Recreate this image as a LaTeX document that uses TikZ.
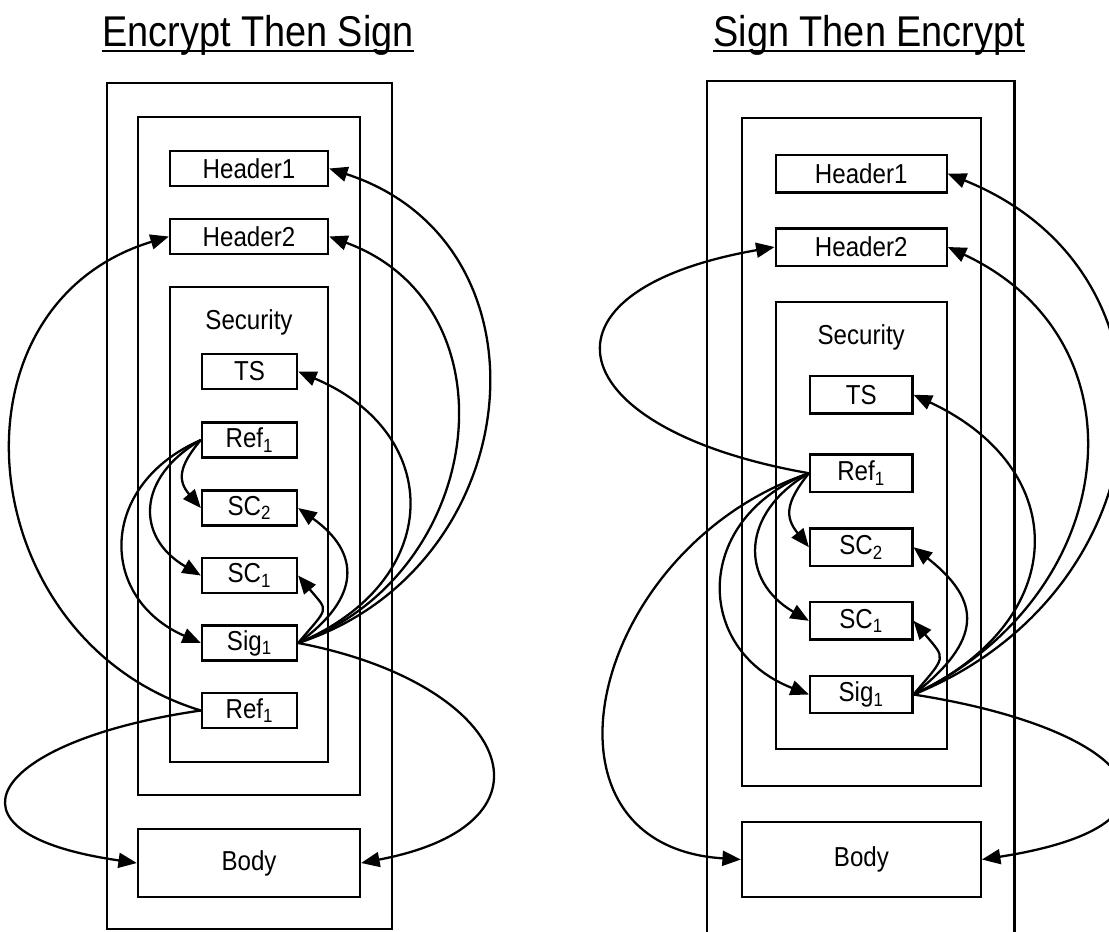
\documentclass[tikz,border=0pt]{standalone}
\usepackage{fontspec}
\setmainfont{Liberation Sans}[FakeStretch=0.88]
\usetikzlibrary{arrows.meta}
\newcommand\pxu{0.02cm}
\begin{document}
\begin{tikzpicture}[x=0.02cm, y=-0.02cm,
  boxn/.style n args={2}{draw, line width=1.3pt, inner sep=0pt,
    minimum width=#1*\pxu, minimum height=#2*\pxu,
    font=\fontsize{15.6}{18}\selectfont},
  lbl/.style={inner sep=0pt, anchor=base, font=\fontsize{15.6}{18}\selectfont},
  link/.style={line width=1.3pt, -{Triangle[length=10.5pt,width=8.5pt]}},
  ttl/.style={inner sep=0pt, anchor=base, font=\fontsize{24.5}{28}\selectfont},
  uline/.style={line width=1.3pt}
]
\useasboundingbox (0,0) rectangle (1109,931);
\clip (0,0) rectangle (1109,931);

% ---------- titles ----------
\node[ttl] (t1) at (258,46.7) {Encrypt Then Sign};
\draw[uline] ([yshift=-4.3*\pxu]t1.base west) -- ([yshift=-4.3*\pxu]t1.base east);
\node[ttl] (t2) at (869.3,46.7) {Sign Then Encrypt};
\draw[uline] ([yshift=-4.3*\pxu]t2.base west) -- ([yshift=-4.3*\pxu]t2.base east);

% ---------- left diagram ----------
\node[boxn={285}{846}] (Lout) at (249.5,506) {};
\node[boxn={222}{678}] (Lmid) at (249,456) {};
\node[boxn={158}{35}] (Lh1) at (249,168.5) {Header1};
\node[boxn={158}{35}] (Lh2) at (249,236.5) {Header2};
\node[boxn={158}{475}] (Lsec) at (249,524.5) {};
\node[lbl] (Lseclbl) at (249,329.3) {Security};
\node[boxn={95}{35}] (Lts) at (249.5,371.5) {TS};
\node[boxn={95}{35}] (Lref) at (249.5,440) {Ref\textsubscript{1}};
\node[boxn={95}{35}] (Lsc2) at (249.5,508) {SC\textsubscript{2}};
\node[boxn={95}{35}] (Lsc1) at (249.5,575.5) {SC\textsubscript{1}};
\node[boxn={95}{35}] (Lsig) at (249.5,643) {Sig\textsubscript{1}};
\node[boxn={95}{35}] (Lref2) at (249.5,710.5) {Ref\textsubscript{1}};
\node[boxn={222}{68}] (Lbody) at (249,863) {Body};

\draw[link] (Lsig.east) .. controls +(231,-75) and +(231,75) .. (Lh1.east);
\draw[link] (Lsig.east) .. controls +(189,-69) and +(189,69) .. (Lh2.east);
\draw[link] (Lsig.east) .. controls +(147,-62) and +(147,62) .. (Lts.east);
\draw[link] (Lsig.east) .. controls +(63,-45) and +(63,45) .. (Lsc2.east);
\draw[link] (Lsig.east) .. controls +(31,-37) and +(31,37) .. (Lsc1.east);
\draw[link] (Lsig.east) .. controls +(210,40) and +(210,-40) .. (Lbody.east);
\draw[link] (Lref.west) .. controls +(-23,27) and +(-23,-27) .. (Lsc2.west);
\draw[link] (Lref.west) .. controls +(-65,38) and +(-65,-38) .. (Lsc1.west);
\draw[link] (Lref.west) .. controls +(-103,45) and +(-103,-45) .. (Lsig.west);
\draw[link] (Lref2.west) .. controls +(-230,-70) and +(-230,70) .. (Lh2.west);
\draw[link] (Lref2.west) .. controls +(-209,30) and +(-209,-30) .. (Lbody.west);

% ---------- right diagram ----------
\node[boxn={307.3}{879}] (Rout) at (860.85,520.5) {};
\node[boxn={238.8}{668}] (Rmid) at (861.4,451.7) {};
\node[boxn={171}{37.3}] (Rh1) at (861.2,173.7) {Header1};
\node[boxn={171}{37.3}] (Rh2) at (861.2,247) {Header2};
\node[boxn={171}{447}] (Rsec) at (861.2,525.8) {};
\node[lbl] (Rseclbl) at (861.2,344.3) {Security};
\node[boxn={102.3}{37.3}] (Rts) at (861.2,394.7) {TS};
\node[boxn={102.3}{37.3}] (Rref) at (861.2,473.2) {Ref\textsubscript{1}};
\node[boxn={102.3}{37.3}] (Rsc2) at (861.2,547.2) {SC\textsubscript{2}};
\node[boxn={102.3}{37.3}] (Rsc1) at (861.2,620.8) {SC\textsubscript{1}};
\node[boxn={102.3}{37.3}] (Rsig) at (861.2,694.5) {Sig\textsubscript{1}};
\node[boxn={238.8}{74.4}] (Rbody) at (861.4,859.5) {Body};

\draw[link] (Rsig.east) .. controls +(251,-101) and +(251,101) .. (Rh1.east);
\draw[link] (Rsig.east) .. controls +(205,-96) and +(205,96) .. (Rh2.east);
\draw[link] (Rsig.east) .. controls +(159,-74) and +(159,74) .. (Rts.east);
\draw[link] (Rsig.east) .. controls +(69,-54) and +(69,54) .. (Rsc2.east);
\draw[link] (Rsig.east) .. controls +(33,-39) and +(33,39) .. (Rsc1.east);
\draw[link] (Rsig.east) .. controls +(225,35) and +(225,-35) .. (Rbody.east);
\draw[link] (Rref.west) .. controls +(-251,-44) and +(-251,44) .. (Rh2.west);
\draw[link] (Rref.west) .. controls +(-24,30) and +(-24,-30) .. (Rsc2.west);
\draw[link] (Rref.west) .. controls +(-69,40) and +(-69,-40) .. (Rsc1.west);
\draw[link] (Rref.west) .. controls +(-116,45) and +(-116,-45) .. (Rsig.west);
\draw[link] (Rref.west) .. controls +(-220,75) and +(-220,-14) .. (Rbody.west);
\end{tikzpicture}
\end{document}
